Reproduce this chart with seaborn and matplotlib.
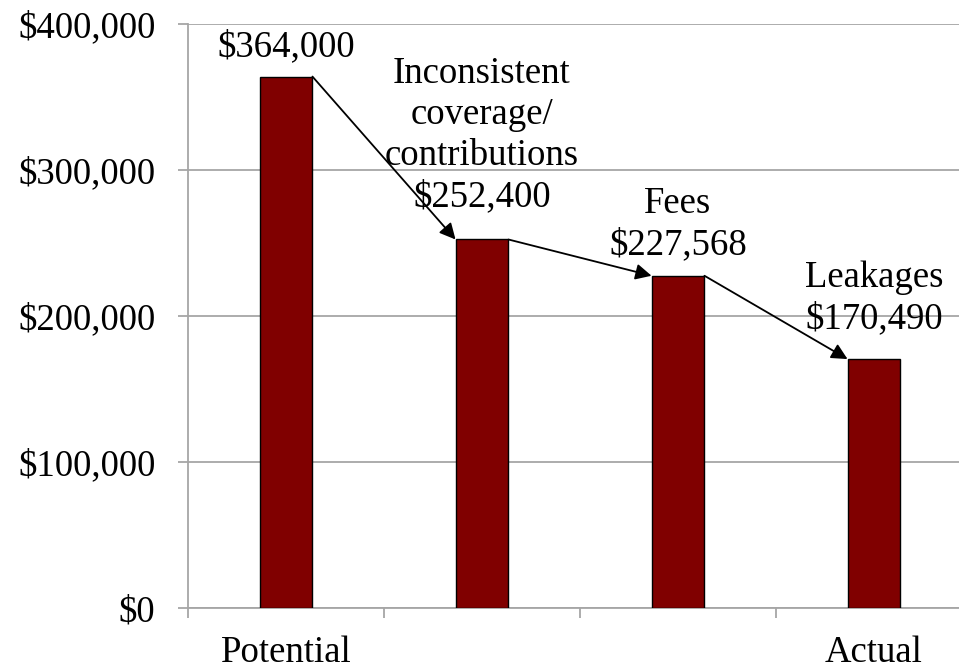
import matplotlib
matplotlib.use("Agg")
import matplotlib.pyplot as plt
import seaborn as sns
import pandas as pd
from matplotlib.ticker import FuncFormatter, FixedLocator

categories = ["Potential", "Coverage", "Fees", "Actual"]
tick_labels = ["Potential", "", "", "Actual"]
values = [364000, 252400, 227568, 170490]
bar_labels = ["$364,000", "Inconsistent\ncoverage/\ncontributions\n$252,400",
              "Fees\n$227,568", "Leakages\n$170,490"]
yticks = [0, 100000, 200000, 300000, 400000]

# label offsets above bar tops (points)
label_offsets = [8.6, 18, 10, 16.5]

sns.set_theme(style="white")
plt.rcParams['font.family'] = ['Liberation Serif', 'DejaVu Serif']

df = pd.DataFrame({"cat": categories, "val": values})

fig = plt.figure(figsize=(9.59, 6.69), dpi=100)
ax = fig.add_axes([188/959, 61/669, 784/959, 584/669])
bw = 0.27
sns.barplot(data=df, x="cat", y="val", color="#800000", saturation=1,
            width=bw, edgecolor="black", linewidth=1, ax=ax, zorder=3)

ax.set_xlim(-0.5, 3.5)
ax.set_ylim(0, 400000)
ax.set_yticks(yticks)
ax.yaxis.set_major_formatter(FuncFormatter(lambda v, p: f"${int(v):,}"))
ax.grid(axis="y", color="#a6a6a6", linewidth=1.3, zorder=0)
ax.set_axisbelow(True)

n = len(categories)
ax.xaxis.set_major_locator(FixedLocator([i - 0.5 for i in range(n + 1)]))
ax.xaxis.set_minor_locator(FixedLocator(list(range(n))))
ax.set_xticklabels([""] * (n + 1))
ax.set_xticklabels(tick_labels, minor=True)
ax.tick_params(axis="x", which="major", direction="out", length=7.5, width=1.3,
               color="#a6a6a6", bottom=True)
ax.tick_params(axis="x", which="minor", length=0, pad=20, labelsize=26.5, bottom=True)
ax.tick_params(axis="y", direction="out", length=7.5, width=1.3, color="#a6a6a6",
               left=True, pad=16, labelsize=26.5)
for lab in ax.get_yticklabels() + ax.get_xticklabels(minor=True):
    lab.set_color("black")

ax.set_xlabel("")
ax.set_ylabel("")
for s in ["top", "right"]:
    ax.spines[s].set_visible(False)
for s in ["left", "bottom"]:
    ax.spines[s].set_color("#a6a6a6")
    ax.spines[s].set_linewidth(1.3)

for i, (v, t) in enumerate(zip(values, bar_labels)):
    ax.annotate(t, xy=(i, v), xytext=(0, label_offsets[i]), textcoords="offset points",
                ha="center", va="bottom", fontsize=26.5, linespacing=1.25,
                color="black", zorder=5)

for i in range(n - 1):
    ax.annotate("", xy=(i + 1 - bw / 2, values[i + 1]), xytext=(i + bw / 2, values[i]),
                arrowprops=dict(arrowstyle="-|>", color="black", lw=1.3,
                                mutation_scale=24, shrinkA=0, shrinkB=0),
                zorder=6)

fig.savefig("out.png", dpi=100)
